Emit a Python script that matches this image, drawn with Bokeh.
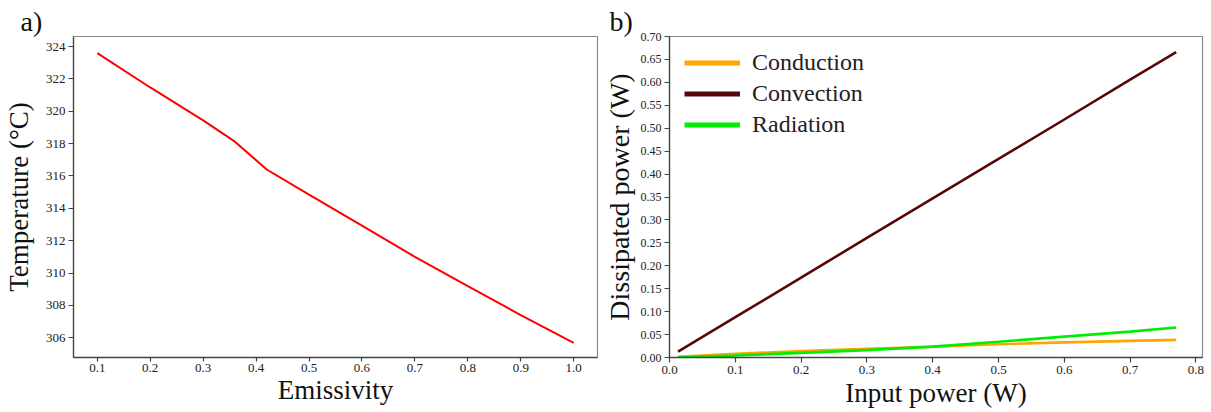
from bokeh.plotting import figure
from bokeh.layouts import row
from bokeh.models import (Legend, LegendItem, FixedTicker, PrintfTickFormatter,
                          Range1d, Title)
from bokeh.embed import file_html
from bokeh.resources import INLINE

# ---- data: panel a ----
emissivity = [0.1, 0.2, 0.3, 0.36, 0.42, 0.5, 0.6, 0.7, 0.8, 0.9, 1.0]
temperature = [323.59, 321.47, 319.44, 318.12, 316.40, 314.85, 312.93, 311.00, 309.19, 307.40, 305.68]
a_xticks = [0.1, 0.2, 0.3, 0.4, 0.5, 0.6, 0.7, 0.8, 0.9, 1.0]
a_yticks = [306, 308, 310, 312, 314, 316, 318, 320, 322, 324]

# ---- data: panel b ----
input_power = [0.013, 0.1, 0.2, 0.3, 0.4, 0.5, 0.6, 0.7, 0.77]
conduction = [0.0018, 0.0080, 0.0138, 0.0190, 0.0236, 0.0288, 0.0330, 0.0362, 0.0385]
convection = [0.013, 0.088, 0.174, 0.261, 0.347, 0.433, 0.519, 0.606, 0.666]
radiation = [0.0005, 0.0045, 0.0100, 0.0160, 0.0237, 0.0345, 0.0455, 0.0565, 0.0654]
b_xticks = [0.0, 0.1, 0.2, 0.3, 0.4, 0.5, 0.6, 0.7, 0.8]
b_yticks = [0.0, 0.05, 0.10, 0.15, 0.20, 0.25, 0.30, 0.35, 0.40, 0.45, 0.50, 0.55, 0.60, 0.65, 0.70]
series_names = ["Conduction", "Convection", "Radiation"]
series_colors = ["#ffa500", "#5a0606", "#00ee00"]

FONT = "Liberation Serif"


def style(p, ytick_size="13px"):
    p.xgrid.visible = False
    p.ygrid.visible = False
    p.outline_line_color = "#888888"
    p.outline_line_width = 1.2
    p.background_fill_color = "white"
    p.border_fill_color = "white"
    for ax in (p.xaxis[0], p.yaxis[0]):
        ax.axis_line_color = "#444444"
        ax.axis_line_width = 1.3
        ax.major_tick_line_color = "#444444"
        ax.major_tick_line_width = 1.2
        ax.major_tick_out = 5
        ax.major_tick_in = 0
        ax.minor_tick_line_color = None
        ax.major_label_text_font = FONT
        ax.major_label_text_color = "#222222"
        ax.axis_label_text_font = FONT
        ax.axis_label_text_font_style = "normal"
        ax.axis_label_text_color = "#111111"
    p.xaxis[0].major_label_text_font_size = "13px"
    p.yaxis[0].major_label_text_font_size = ytick_size
    p.xaxis[0].major_label_standoff = 3
    p.yaxis[0].major_label_standoff = 3


def panel_title(text, offset):
    return Title(text=text, align="left", offset=offset, standoff=0,
                 text_font=FONT, text_font_size="28px", text_font_style="normal",
                 text_color="#111111")


# ---------------- panel a ----------------
p1 = figure(width=600, height=412, output_backend="svg", toolbar_location=None,
            x_range=Range1d(0.055, 1.045), y_range=Range1d(304.78, 324.62),
            min_border_left=73, min_border_right=3, min_border_top=34, min_border_bottom=52)
style(p1)
p1.xaxis[0].ticker = FixedTicker(ticks=a_xticks)
p1.xaxis[0].formatter = PrintfTickFormatter(format="%.1f")
p1.yaxis[0].ticker = FixedTicker(ticks=a_yticks)
p1.yaxis[0].formatter = PrintfTickFormatter(format="%d")
p1.xaxis[0].major_tick_out = 4
p1.xaxis[0].major_label_standoff = 2
p1.xaxis[0].axis_label = "Emissivity"
p1.xaxis[0].axis_label_text_font_size = "27px"
p1.xaxis[0].axis_label_standoff = 0
p1.yaxis[0].axis_label = "Temperature (°C)"
p1.yaxis[0].axis_label_text_font_size = "27px"
p1.yaxis[0].axis_label_standoff = 9
p1.line(emissivity, temperature, line_color="#ff0000", line_width=2)
p1.add_layout(panel_title("a)", -53), "above")

# ---------------- panel b ----------------
p2 = figure(width=611, height=412, output_backend="svg", toolbar_location=None,
            x_range=Range1d(0.0, 0.81), y_range=Range1d(0.0, 0.70),
            min_border_left=63, min_border_right=9, min_border_top=36, min_border_bottom=55)
style(p2, ytick_size="12px")
p2.xaxis[0].ticker = FixedTicker(ticks=b_xticks)
p2.xaxis[0].formatter = PrintfTickFormatter(format="%.1f")
p2.yaxis[0].ticker = FixedTicker(ticks=b_yticks)
p2.yaxis[0].formatter = PrintfTickFormatter(format="%.2f")
p2.xaxis[0].axis_label = "Input power (W)"
p2.xaxis[0].axis_label_text_font_size = "27px"
p2.xaxis[0].axis_label_standoff = 1
p2.yaxis[0].axis_label = "Dissipated power (W)"
p2.yaxis[0].axis_label_text_font_size = "28px"
p2.yaxis[0].axis_label_standoff = 3

items = []
for name, col, vals in zip(series_names, series_colors, [conduction, convection, radiation]):
    p2.line(input_power, vals, line_color=col, line_width=2.6)
    # one-point proxy so the legend swatch can be drawn thicker than the curve
    proxy = p2.line(x=input_power[:1], y=vals[:1], line_color=col, line_width=5)
    items.append(LegendItem(label=name, renderers=[proxy]))

legend = Legend(items=items, location=(15, 217), glyph_width=56, glyph_height=31,
                label_height=31, label_standoff=12, spacing=0, padding=0, margin=0,
                label_text_font=FONT, label_text_font_size="24px", label_text_color="#222222",
                border_line_color=None, background_fill_alpha=0)
p2.add_layout(legend)
p2.add_layout(panel_title("b)", -60), "above")

layout = row(p1, p2)
open("out.html", "w").write(file_html(layout, INLINE))
